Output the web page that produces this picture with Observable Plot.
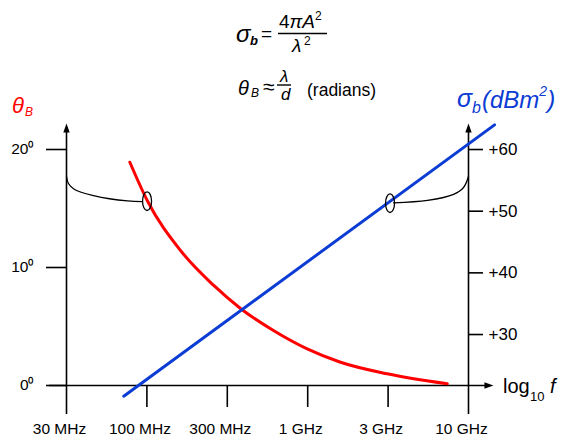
<!DOCTYPE html>
<html>
<head>
<meta charset="utf-8">
<script src="https://cdn.jsdelivr.net/npm/d3@7"></script>
<script src="https://cdn.jsdelivr.net/npm/@observablehq/plot@0.6"></script>
<style>
  html, body { margin: 0; padding: 0; background: #fff; }
  #wrap { position: relative; width: 571px; height: 438px; font-family: "Liberation Sans", Arial, sans-serif; }
  #wrap svg.overlay { position: absolute; left: 0; top: 0; pointer-events: none; }
</style>
</head>
<body>
<div id="wrap"></div>
<script>
// ---- data ----
// x: log10 of frequency (half-decade ticks)
const xTickValues = [7.5, 8, 8.5, 9, 9.5, 10];
const xTickLabels = ["30 MHz", "100 MHz", "300 MHz", "1 GHz", "3 GHz", "10 GHz"];
const leftTicks = [0, 10, 20];          // theta_B, degrees
const rightTicks = [30, 40, 50, 60];    // sigma_b, dBm^2

// theta_B (red) vs log10 f
const redX     = [7.894, 8.002, 8.209, 8.414, 8.582, 8.787, 8.997, 9.204, 9.494, 9.868];
const redTheta = [18.92, 15.68, 11.44, 8.50, 6.53, 4.66, 3.10, 1.97, 0.99, 0.14];

// sigma_b (blue) vs log10 f, in dBm^2
const blueX  = [7.856, 10.162];
const blueDb = [20.0, 64.0];

// annotation leader curves (theta units) and ellipse markers
const leftLinkX      = [7.5, 7.512, 7.550, 7.668, 7.879, 7.972];
const leftLinkTheta  = [17.71, 17.12, 16.61, 16.10, 15.64, 15.59];
const rightLinkX     = [9.534, 9.745, 9.907, 9.969, 10.0];
const rightLinkTheta = [15.48, 15.68, 16.19, 16.78, 17.71];
const ellipseX     = [8.001, 9.512];
const ellipseTheta = [15.62, 15.45];

// ---- helpers ----
// right axis (dB) mapped onto the left (degree) scale
const dbToTheta = db => 4.32 + (db - 30) * 0.5226;
const thetaToDb = t => 30 + (t - 4.32) / 0.5226;
const pts = (xs, ys) => xs.map((x, i) => ({x, y: ys[i]}));

const ellipseSymbol = {
  draw(ctx) {
    const rx = 4.5, ry = 9.3, k = 0.5523;
    ctx.moveTo(rx, 0);
    ctx.bezierCurveTo(rx, ry * k, rx * k, ry, 0, ry);
    ctx.bezierCurveTo(-rx * k, ry, -rx, ry * k, -rx, 0);
    ctx.bezierCurveTo(-rx, -ry * k, -rx * k, -ry, 0, -ry);
    ctx.bezierCurveTo(rx * k, -ry, rx, -ry * k, rx, 0);
    ctx.closePath();
  }
};
const arrowUp = { draw(ctx) { ctx.moveTo(0, 0); ctx.lineTo(3.2, 9); ctx.lineTo(-3.2, 9); ctx.closePath(); } };
const arrowRight = { draw(ctx) { ctx.moveTo(0, 0); ctx.lineTo(-9, 3.2); ctx.lineTo(-9, -3.2); ctx.closePath(); } };

const BLUE = "#0b3cd4", RED = "#ff0000";

const chart = Plot.plot({
  width: 571,
  height: 438,
  marginLeft: 66,
  marginRight: 103,
  marginTop: 149,
  marginBottom: 53,
  x: { type: "linear", domain: [7.5, 10] },
  y: { type: "linear", domain: [0, 20] },
  style: { fontFamily: "Liberation Sans, Arial, sans-serif", color: "black", background: "white", overflow: "visible" },
  marks: [
    // axes lines
    Plot.ruleY([0], { x1: 7.394, x2: 10.12, stroke: "black", strokeWidth: 1.6 }),
    Plot.ruleX([7.5, 10], { y1: -2.46, y2: 21.6, stroke: "black", strokeWidth: 1.6 }),
    Plot.dot([{x: 7.5, y: 22.2}, {x: 10, y: 22.2}], { x: "x", y: "y", symbol: arrowUp, fill: "black", stroke: "none" }),
    Plot.dot([{x: 10.155, y: 0}], { x: "x", y: "y", symbol: arrowRight, fill: "black", stroke: "none" }),
    // left axis ticks + labels
    Plot.axisY({ anchor: "left", label: null, ticks: leftTicks, tickSize: 20, tickPadding: 13, strokeWidth: 1.6,
      tickFormat: d => d + "\u2070", fontSize: 15.5 }),
    // right axis ticks + labels (dBm^2)
    Plot.axisY({ anchor: "right", label: null, ticks: rightTicks.map(dbToTheta), tickSize: 14, tickPadding: 6, strokeWidth: 1.6,
      tickFormat: d => "+" + Math.round(thetaToDb(d)), fontSize: 17 }),
    // x axis ticks
    Plot.axisX({ anchor: "bottom", label: null, ticks: xTickValues.slice(1, -1), tickSize: 22, strokeWidth: 1.6,
      tickFormat: () => "" }),
    // x axis labels
    Plot.axisX({ anchor: "bottom", label: null, ticks: xTickValues, tickSize: 0, tickPadding: 37, dx: -7,
      tickFormat: d => xTickLabels[xTickValues.indexOf(d)], fontSize: 15.5 }),
    // leader curves and ellipses
    Plot.line(pts(leftLinkX, leftLinkTheta), { x: "x", y: "y", curve: "catmull-rom", stroke: "black", strokeWidth: 1.3 }),
    Plot.line(pts(rightLinkX, rightLinkTheta), { x: "x", y: "y", curve: "catmull-rom", stroke: "black", strokeWidth: 1.3 }),
    // data series
    Plot.line(pts(redX, redTheta), { x: "x", y: "y", curve: "monotone-x", stroke: RED, strokeWidth: 3 }),
    Plot.line(pts(blueX, blueDb.map(dbToTheta)), { x: "x", y: "y", stroke: BLUE, strokeWidth: 3 }),
    Plot.dot(pts(ellipseX, ellipseTheta), { x: "x", y: "y", symbol: ellipseSymbol, fill: "none", stroke: "black", strokeWidth: 1.3 })
  ]
});

const wrap = document.getElementById("wrap");
wrap.appendChild(chart);

// ---- formulas and axis titles ----
const ns = "http://www.w3.org/2000/svg";
const ov = document.createElementNS(ns, "svg");
ov.setAttribute("class", "overlay");
ov.setAttribute("width", 571);
ov.setAttribute("height", 438);
ov.innerHTML = `
<g font-family="Liberation Sans, Arial, sans-serif" fill="black">
  <!-- sigma_b = 4 pi A^2 / lambda^2 -->
  <text x="236" y="42" font-size="24" font-style="italic">σ</text>
  <text x="250" y="45" font-size="13" font-style="italic" font-weight="bold">b</text>
  <text x="261" y="40" font-size="19">=</text>
  <text x="279" y="28" font-size="19">4<tspan font-style="italic">π</tspan><tspan font-style="italic">A</tspan><tspan font-size="12" dy="-8">2</tspan></text>
  <line x1="278" x2="327" y1="33.5" y2="33.5" stroke="black" stroke-width="1.4"/>
  <text x="292" y="52" font-size="19" font-style="italic">λ</text>
  <text x="304" y="45" font-size="12">2</text>

  <!-- theta_B ~ lambda / d (radians) -->
  <text x="238" y="95" font-size="20" font-style="italic">θ</text>
  <text x="251" y="97" font-size="12" font-style="italic">B</text>
  <text x="263" y="94" font-size="21">≈</text>
  <text x="280" y="82" font-size="17" font-style="italic">λ</text>
  <line x1="277" x2="291" y1="85" y2="85" stroke="black" stroke-width="1.4"/>
  <text x="281" y="100" font-size="17" font-style="italic">d</text>
  <text x="307" y="96" font-size="17.5">(radians)</text>

  <!-- left axis title -->
  <text x="12" y="113" font-size="22" font-style="italic" fill="${RED}">θ</text>
  <text x="25" y="116" font-size="12" font-style="italic" fill="${RED}">B</text>

  <!-- right axis title -->
  <text x="457" y="107" font-size="25" font-style="italic" fill="${BLUE}">σ</text>
  <text x="472" y="113" font-size="16" font-style="italic" fill="${BLUE}">b</text>
  <text x="482" y="108" font-size="24" font-style="italic" fill="${BLUE}">(dBm<tspan font-size="14" dy="-12">2</tspan><tspan dy="12">)</tspan></text>

  <!-- x axis title -->
  <text x="503" y="393" font-size="20">log</text>
  <text x="530" y="401" font-size="13">10</text>
  <text x="550" y="393" font-size="20" font-style="italic">f</text>
</g>`;
wrap.appendChild(ov);
</script>
</body>
</html>
